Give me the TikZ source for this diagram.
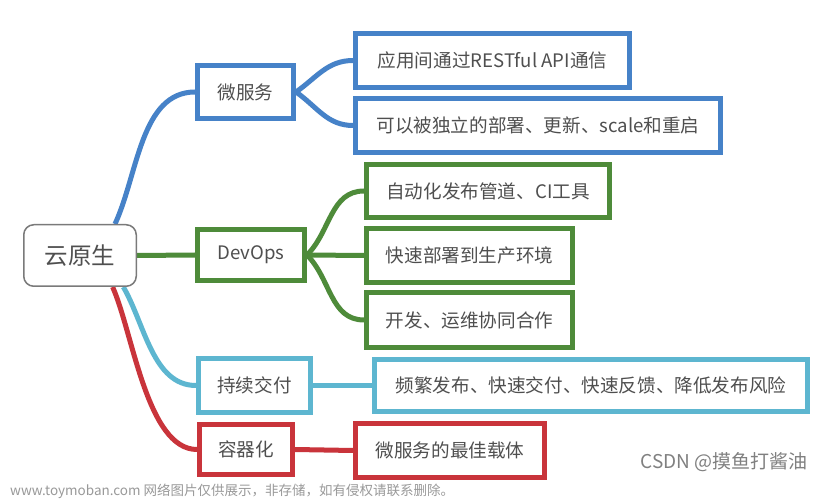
\documentclass[tikz,border=0pt]{standalone}
\usepackage{fontspec}
\setmainfont{Noto Sans CJK SC}
\definecolor{cblue}{HTML}{4682C8}
\definecolor{cgreen}{HTML}{4E8B3A}
\definecolor{ccyan}{HTML}{5DB6D0}
\definecolor{cred}{HTML}{C9343B}
\definecolor{ctext}{HTML}{4F4F4F}
\definecolor{croot}{HTML}{7A7A7A}
\pgfdeclarelayer{paper}
\pgfdeclarelayer{links}
\pgfsetlayers{paper,links,main}
\tikzset{
  box/.style={draw=#1, line width=5pt, fill=white, inner sep=0pt, text=ctext, font=\fontsize{18.6}{21}\selectfont},
  link/.style={draw=#1, line width=5pt},
  rootbox/.style={draw=croot, line width=1.5pt, rounded corners=10pt, fill=white, inner sep=0pt, text=ctext, font=\fontsize{23.5}{26}\selectfont},
  wm/.style={inner sep=0pt, text=#1}
}
\begin{document}
\begin{tikzpicture}[x=1pt,y=-1pt]
\begin{pgfonlayer}{paper}
\useasboundingbox[fill=white] (0,0) rectangle (822,502);
\end{pgfonlayer}
% nodes
\node[rootbox, minimum width=112.5pt, minimum height=61.5pt] (root) at (80,255.5) {云原生};
\node[box=cblue, minimum width=96pt, minimum height=53pt] (ms) at (245.5,92) {微服务};
\node[box=cblue, minimum width=274pt, minimum height=54pt] (ms1) at (492.5,60.5) {应用间通过RESTful API通信};
\node[box=cblue, minimum width=365pt, minimum height=54pt] (ms2) at (538,125.5) {可以被独立的部署、更新、scale和重启};
\node[box=cgreen, minimum width=107pt, minimum height=51pt] (dev) at (251,255) {DevOps};
\node[box=cgreen, minimum width=243pt, minimum height=53pt] (d1) at (488,191) {自动化发布管道、CI工具};
\node[box=cgreen, minimum width=206pt, minimum height=54pt] (d2) at (469.5,255.5) {快速部署到生产环境};
\node[box=cgreen, minimum width=206pt, minimum height=55pt] (d3) at (469.5,320) {开发、运维协同合作};
\node[box=ccyan, minimum width=112pt, minimum height=54pt] (cd) at (254.5,385.5) {持续交付};
\node[box=ccyan, minimum width=433pt, minimum height=52pt] (cd1) at (591,385.5) {频繁发布、快速交付、快速反馈、降低发布风险};
\node[box=cred, minimum width=93pt, minimum height=50pt] (ct) at (246,449.5) {容器化};
\node[box=cred, minimum width=189pt, minimum height=54pt] (ct1) at (450,450.5) {微服务的最佳载体};
% connectors (behind nodes)
\begin{pgfonlayer}{links}
\path[link=cblue] (root.42) to[out=65,in=180,looseness=0.9] (ms.west);
\path[link=cgreen] (root.east) -- (dev.west);
\path[link=ccyan] (root.-36) to[out=-60,in=180,looseness=0.9] (cd.west);
\path[link=cred] (root.-44) to[out=-66,in=180,looseness=0.7] (ct.west);
\path[link=cblue] (ms.east) to[out=35,in=180] (ms1.west);
\path[link=cblue] (ms.east) to[out=-35,in=180] (ms2.west);
\path[link=cgreen] (dev.east) to[out=45,in=180] (d1.west);
\path[link=cgreen] (dev.east) -- (d2.west);
\path[link=cgreen] (dev.east) to[out=-45,in=180] (d3.west);
\path[link=ccyan] (cd.east) -- (cd1.west);
\path[link=cred] (ct.east) -- (ct1.west);
\end{pgfonlayer}
% watermarks
\node[wm={black!40}, anchor=west, font=\fontsize{13.5}{15}\selectfont] (wm1) at (10,491) {www.toymoban.com 网络图片仅供展示，非存储，如有侵权请联系删除。};
\node[wm={black!50}, anchor=east, font=\fontsize{19}{21}\selectfont] (wm2) at (808,462) {CSDN @摸鱼打酱油};
\end{tikzpicture}
\end{document}
